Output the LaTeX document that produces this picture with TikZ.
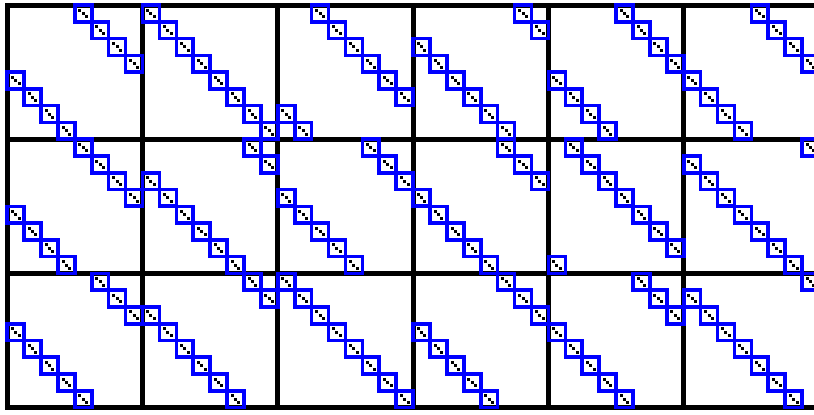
\documentclass[tikz,border=0pt]{standalone}
\begin{document}
\begin{tikzpicture}[x=1pt,y=-1pt,
  gridline/.style={line width=5pt,line cap=rect,black},
  entrybox/.style={draw=blue,line width=3.6pt},
  dotmark/.style={fill=black}]
\useasboundingbox (0,0) rectangle (814,415);
\fill[white] (0,0) rectangle (814,415);
\def\xo{7.2}\def\yo{5}\def\cw{135.3}\def\ch{134.2}
% grid
\foreach \c in {0,...,5}
  \draw[gridline] ({\xo+\c*\cw},\yo) -- ({\xo+\c*\cw},{\yo+3*\ch});
\foreach \r in {0,...,3}
  \draw[gridline] (\xo,{\yo+\r*\ch}) -- (820,{\yo+\r*\ch});
% cyclic shift matrices
\foreach \r/\c/\k in {0/0/4,0/1/0,0/2/2,0/3/6,0/4/4,0/5/4,
                      1/0/4,1/1/6,1/2/5,1/3/5,1/4/1,1/5/7,
                      2/0/5,2/1/6,2/2/0,2/3/5,2/4/5,2/5/7}{
  \foreach \i in {0,...,7}{
    \pgfmathtruncatemacro{\j}{mod(\i+\k,8)}
    \pgfmathsetmacro{\ex}{\xo+\c*\cw+\j*\cw/8}
    \pgfmathsetmacro{\ey}{\yo+\r*\ch+\i*\ch/8}
    \draw[entrybox] (\ex,\ey) rectangle ++(16.91,16.77);
    \foreach \f in {0.3,0.5,0.7}
      \fill[dotmark] ({\ex+\f*16.91-1.5},{\ey+\f*16.77-1.5}) rectangle ++(3,3);
  }
}
\end{tikzpicture}
\end{document}
